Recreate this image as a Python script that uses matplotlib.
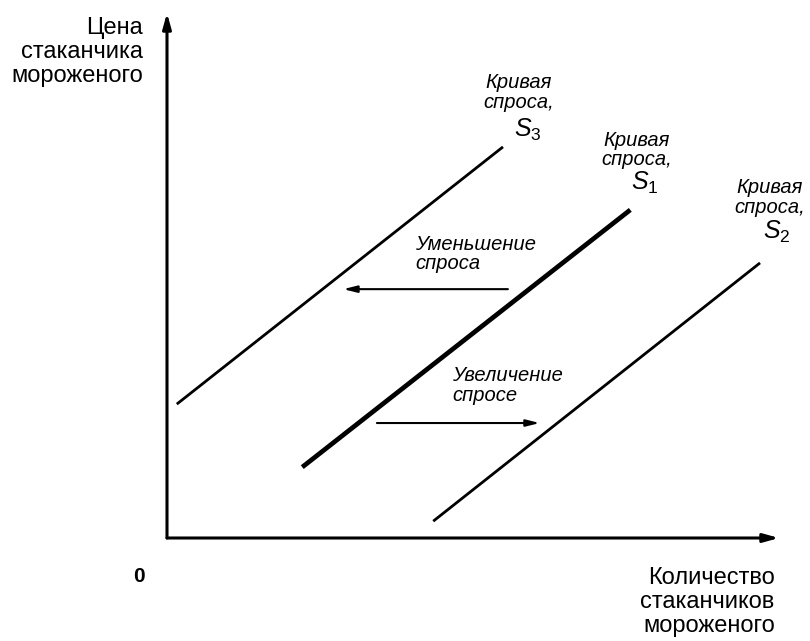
import matplotlib.pyplot as plt

plt.rcParams['font.family'] = ['Liberation Sans', 'DejaVu Sans']
plt.rcParams['mathtext.fontset'] = 'custom'
plt.rcParams['mathtext.rm'] = 'Liberation Sans'
plt.rcParams['mathtext.it'] = 'Liberation Sans:italic'

# demand curves, (x, y) end points in chart units (origin = axes corner)
s3_x = [1.6, 54.9]
s3_y = [25.5, 74.5]
s1_x = [22.1, 75.7]
s1_y = [13.5, 62.5]
s2_x = [43.5, 96.9]
s2_y = [3.2, 52.4]

# shift arrows: start x, end x, height
decrease_x = [55.7, 28.8]
decrease_y = 47.4
increase_x = [34.3, 60.9]
increase_y = 21.9

fig = plt.figure(figsize=(8.1, 6.41), dpi=100)
ax = fig.add_axes([167 / 810, 103 / 641, 612 / 810, 525 / 641])
ax.set_xlim(0, 100)
ax.set_ylim(0, 100)
ax.axis('off')

# axes with arrow heads
axis_style = dict(arrowstyle='-|>,head_length=0.9,head_width=0.25', lw=2.2,
                  color='black', shrinkA=0, shrinkB=0)
ax.annotate('', xy=(100, 0), xytext=(0, 0), arrowprops=axis_style,
            annotation_clip=False)
ax.annotate('', xy=(0, 100), xytext=(0, 0), arrowprops=axis_style,
            annotation_clip=False)

ax.plot(s3_x, s3_y, color='black', lw=2.0, solid_capstyle='butt')
ax.plot(s1_x, s1_y, color='black', lw=3.4, solid_capstyle='butt')
ax.plot(s2_x, s2_y, color='black', lw=2.0, solid_capstyle='butt')

shift_style = dict(arrowstyle='-|>,head_length=0.8,head_width=0.2', lw=1.5,
                   color='black', shrinkA=0, shrinkB=0)
ax.annotate('', xy=(decrease_x[1], decrease_y), xytext=(decrease_x[0], decrease_y),
            arrowprops=shift_style)
ax.annotate('', xy=(increase_x[1], increase_y), xytext=(increase_x[0], increase_y),
            arrowprops=shift_style)

lab = dict(fontsize=14.5, style='italic', color='black',
           ha='center', va='center', linespacing=1.05, clip_on=False)
ax.text(57.4, 84.8, 'Кривая\nспроса,', **lab)
ax.text(59.0, 77.7, r'$\mathit{S}_3$', fontsize=18, ha='center', va='center')
ax.text(76.8, 73.9, 'Кривая\nспроса,', **lab)
ax.text(78.1, 67.6, r'$\mathit{S}_1$', fontsize=18, ha='center', va='center')
ax.text(98.5, 64.9, 'Кривая\nспроса,', **lab)
ax.text(99.7, 58.3, r'$\mathit{S}_2$', fontsize=18, ha='center', va='center',
        clip_on=False)

lab_left = dict(lab, ha='left')
ax.text(40.5, 54.1, 'Уменьшение\nспроса', **lab_left)
ax.text(46.6, 29.0, 'Увеличение\nспросе', **lab_left)

ax.text(-3.9, 92.6, 'Цена\nстаканчика\nмороженого', fontsize=17, ha='right',
        va='center', linespacing=1.12, clip_on=False)
ax.text(99.3, -12.2, 'Количество\nстаканчиков\nмороженого', fontsize=17,
        ha='right', va='center', linespacing=1.12, clip_on=False)
ax.text(-4.6, -7.4, '0', fontsize=15, fontweight='bold', ha='center',
        va='center', clip_on=False)

fig.savefig('out.png', dpi=100)
